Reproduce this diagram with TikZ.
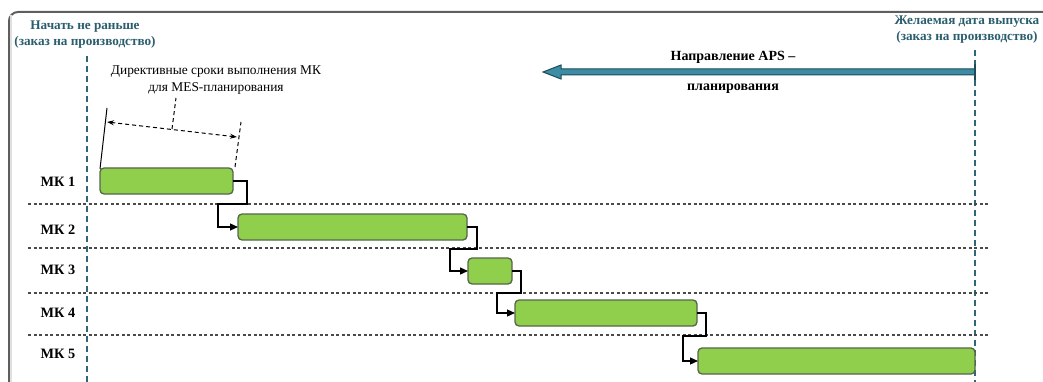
\documentclass[tikz,border=0pt]{standalone}
\usepackage{fontspec}
\setmainfont{Liberation Serif}
\usetikzlibrary{arrows.meta}
\definecolor{tealtxt}{HTML}{2A5E6E}
\definecolor{tealline}{HTML}{2F6678}
\definecolor{arrowfill}{HTML}{3C8CA3}
\definecolor{arrowedge}{HTML}{1E4B5B}
\definecolor{barfill}{HTML}{8FCF4C}
\definecolor{baredge}{HTML}{56664A}
\definecolor{sepcol}{HTML}{4A4A4A}
\definecolor{framecol}{HTML}{5E5E5E}
\tikzset{
  x=1pt, y=-1pt,
  bar/.style={draw=baredge, line width=1.3pt, fill=barfill, rounded corners=4pt,
    anchor=north west, inner sep=0pt, outer sep=0pt},
  rowlbl/.style={font=\bfseries\fontsize{14.3}{16}\selectfont, inner sep=0pt},
  headlbl/.style={font=\bfseries\fontsize{13.2}{16}\selectfont, text=tealtxt, align=center, inner sep=0pt},
  vline/.style={draw=tealline, line width=2pt, dash pattern=on 6pt off 4pt},
  sepline/.style={draw=sepcol, line width=1.4pt, dash pattern=on 3pt off 2.5pt},
  link/.style={draw=black, line width=1.2pt, -{Triangle[length=8pt,width=7pt]}},
  dimline/.style={draw=black, line width=1pt, dash pattern=on 4pt off 3pt},
}
\begin{document}
\begin{tikzpicture}
\useasboundingbox (0,0) rectangle (1043,382);
% frame
\draw[framecol, line width=2pt, rounded corners=9pt] (9,383) -- (9,12) -- (1044,12);
\draw[black!12, line width=1.5pt] (11,15) -- (11,383);
% header labels
\node[headlbl] (startlbl) at (85,35) {Начать не раньше\\(заказ на производство)};
\node[headlbl] (endlbl) at (967,30) {Желаемая дата выпуска\\(заказ на производство)};
% vertical dashed lines
\coordinate (vl1) at (87,56);
\coordinate (vl2) at (87,382);
\coordinate (vr1) at (975,50);
\coordinate (vr2) at (975,382);
\draw[vline] (vl1) -- (vl2);
\draw[vline] (vr1) -- (vr2);
% horizontal separators
\foreach \yy/\nm in {204/s1,248/s2,293/s3,335/s4}{
  \coordinate (\nm a) at (28,\yy);
  \coordinate (\nm b) at (990,\yy);
  \draw[sepline] (\nm a) -- (\nm b);
}
% APS arrow
\draw[arrowedge, fill=arrowfill, line width=1pt, line join=miter]
  (975,69) -- (561,69) -- (561,65) -- (543,72) -- (561,79) -- (561,75) -- (975,75) -- cycle;
\draw[arrowedge, line width=2pt] (975,64) -- (975,80);
\node[font=\bfseries\fontsize{14}{15}\selectfont, inner sep=0pt] (dir1) at (733,57) {Направление APS –};
\node[font=\bfseries\fontsize{14}{15}\selectfont, inner sep=0pt] (dir2) at (733,89) {планирования};
% directive label
\node[font=\fontsize{13.4}{17}\selectfont, align=center, inner sep=0pt] (dirlbl) at (216,80)
  {Директивные сроки выполнения МК\\для MES-планирования};
% rows
\node[rowlbl] (r1) at (58,182) {МК 1};
\node[rowlbl] (r2) at (58,230) {МК 2};
\node[rowlbl] (r3) at (58,270) {МК 3};
\node[rowlbl] (r4) at (58,313) {МК 4};
\node[rowlbl] (r5) at (58,354) {МК 5};
% bars
\node[bar, minimum width=133pt, minimum height=26pt] (b1) at (100,168) {};
\node[bar, minimum width=229pt, minimum height=26pt] (b2) at (238,214) {};
\node[bar, minimum width=44pt, minimum height=26pt] (b3) at (468,258) {};
\node[bar, minimum width=182pt, minimum height=26pt] (b4) at (515,300) {};
\node[bar, minimum width=277pt, minimum height=26pt] (b5) at (698,348) {};
% links
\coordinate (c1a) at (247,204); \coordinate (c1b) at (218,204);
\coordinate (c2a) at (477,249); \coordinate (c2b) at (450,249);
\coordinate (c3a) at (521,293); \coordinate (c3b) at (497,293);
\coordinate (c4a) at (706,336); \coordinate (c4b) at (683,336);
\draw[link] (b1.east) -| (c1a) -- (c1b) |- (b2.west);
\draw[link] (b2.east) -| (c2a) -- (c2b) |- (b3.west);
\draw[link] (b3.east) -| (c3a) -- (c3b) |- (b4.west);
\draw[link] (b4.east) -| (c4a) -- (c4b) |- (b5.west);
% dimension
\coordinate (e1a) at (100,169); \coordinate (e1b) at (107,108);
\coordinate (e2a) at (235,167); \coordinate (e2b) at (241,122);
\coordinate (m1) at (107,122); \coordinate (m2) at (237,137);
\coordinate (ld1) at (172,129); \coordinate (ld2) at (176,98);
\draw[black, line width=1pt] (e1a) -- (e1b);
\draw[dimline] (e2a) -- (e2b);
\draw[dimline, {Stealth[length=7pt,width=5pt]}-{Stealth[length=7pt,width=5pt]}] (m1) -- (m2);
\draw[dimline] (ld1) -- (ld2);
\end{tikzpicture}
\end{document}
